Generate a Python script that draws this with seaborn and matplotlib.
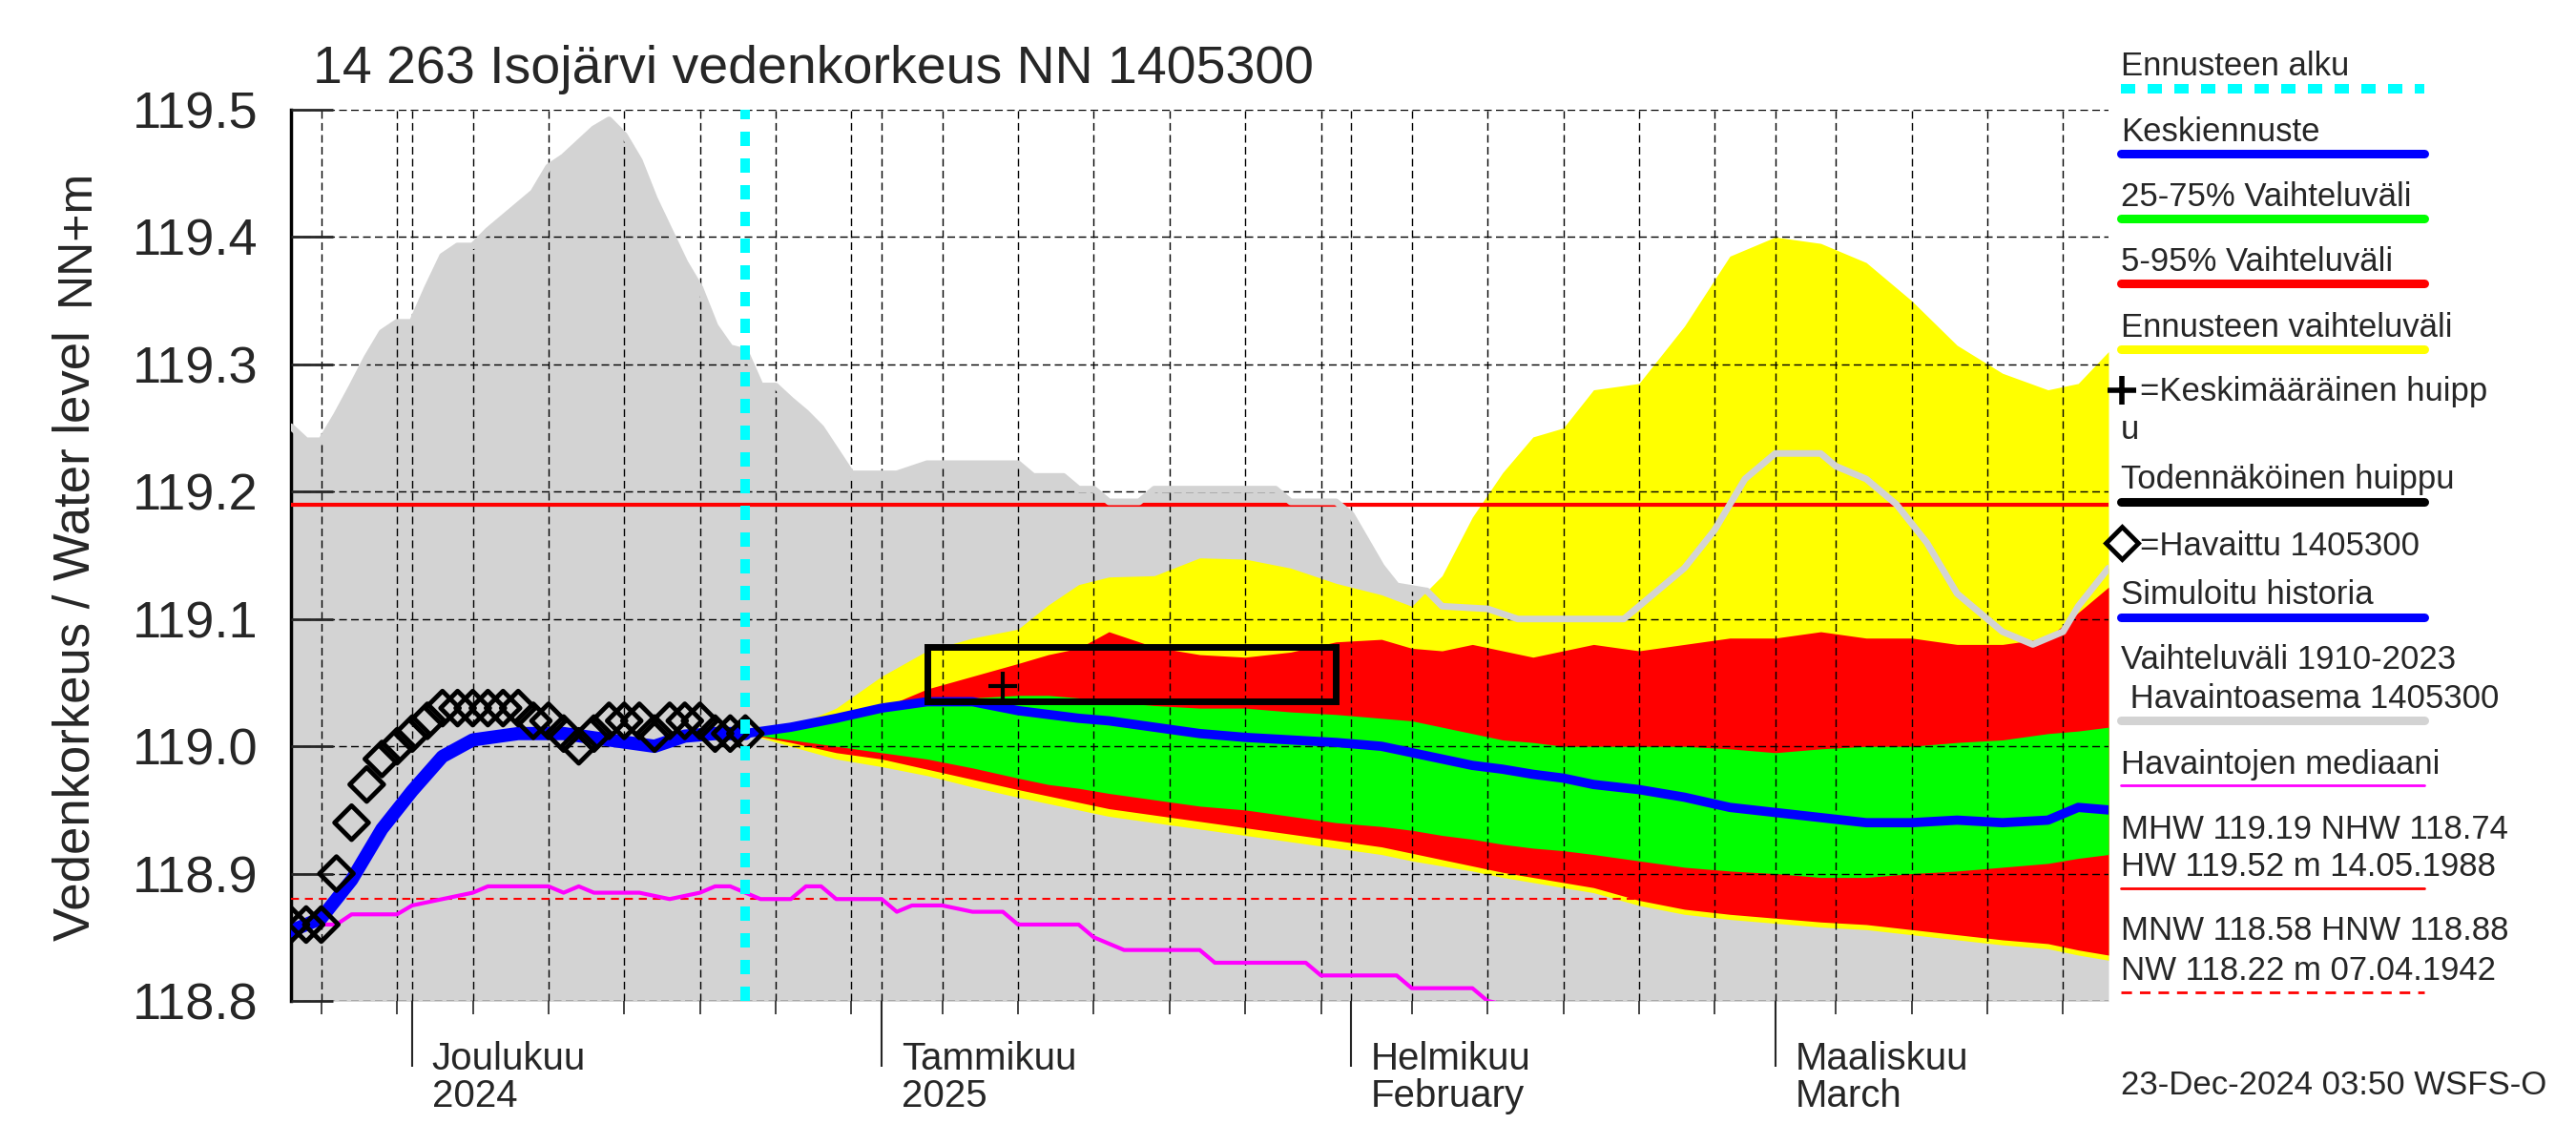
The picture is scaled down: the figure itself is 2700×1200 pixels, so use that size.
import matplotlib
matplotlib.use("Agg")
import numpy as np
import pandas as pd
import matplotlib.pyplot as plt
import matplotlib.dates as mdates
import matplotlib.ticker as mticker
from matplotlib.lines import Line2D
from matplotlib.patches import Rectangle
import seaborn as sns

# --- data --------------------------------------------------------------
x_start, x_end = "2024-11-23", "2025-03-23"
forecast_start = "2024-12-23"
mhw_level = 119.19
hnw_level = 118.88

# historical range 1910-2023 (upper edge, lower edge is below the axis)
hist_dates = ["2024-11-23", "2024-11-24", "2024-11-25", "2024-11-26", "2024-11-27", "2024-11-28",
              "2024-11-29", "2024-11-30", "2024-12-01", "2024-12-02", "2024-12-03", "2024-12-04",
              "2024-12-05", "2024-12-06", "2024-12-07", "2024-12-08", "2024-12-09", "2024-12-10",
              "2024-12-11", "2024-12-12", "2024-12-13", "2024-12-14", "2024-12-15", "2024-12-16",
              "2024-12-17", "2024-12-18", "2024-12-19", "2024-12-20", "2024-12-21", "2024-12-22",
              "2024-12-23", "2024-12-24", "2024-12-25", "2024-12-26", "2024-12-27", "2024-12-28",
              "2024-12-29", "2024-12-30", "2025-01-02", "2025-01-04", "2025-01-10", "2025-01-11",
              "2025-01-13", "2025-01-14", "2025-01-15", "2025-01-16", "2025-01-18", "2025-01-19",
              "2025-01-27", "2025-01-28", "2025-01-31", "2025-02-01", "2025-02-03", "2025-02-04",
              "2025-02-06", "2025-02-07", "2025-02-10", "2025-02-12", "2025-02-19", "2025-02-20",
              "2025-02-21", "2025-02-23", "2025-02-25", "2025-02-27", "2025-03-01", "2025-03-04",
              "2025-03-05", "2025-03-07", "2025-03-09", "2025-03-11", "2025-03-13", "2025-03-15",
              "2025-03-16", "2025-03-18", "2025-03-20", "2025-03-21", "2025-03-23"]
hist_max = [119.251, 119.240, 119.240, 119.260, 119.282, 119.305,
            119.325, 119.333, 119.333, 119.360, 119.385, 119.393,
            119.393, 119.405, 119.415, 119.425, 119.435, 119.455,
            119.463, 119.474, 119.485, 119.492, 119.480, 119.460,
            119.430, 119.405, 119.380, 119.360, 119.330, 119.313,
            119.310, 119.283, 119.283, 119.272, 119.262, 119.250,
            119.232, 119.214, 119.214, 119.222, 119.222, 119.212,
            119.212, 119.202, 119.202, 119.192, 119.192, 119.202,
            119.202, 119.192, 119.192, 119.182, 119.141, 119.126,
            119.122, 119.110, 119.108, 119.100, 119.100, 119.110,
            119.120, 119.140, 119.170, 119.210, 119.230, 119.230,
            119.220, 119.210, 119.190, 119.160, 119.120, 119.100,
            119.090, 119.080, 119.090, 119.110, 119.140]
hist_floor = 118.60

# observed levels (daily)
obs_dates = pd.date_range("2024-11-23", "2024-12-23", freq="D")
obs_level = [118.86, 118.86, 118.86, 118.90, 118.94, 118.97, 118.99, 119.00, 119.01, 119.02,
             119.03, 119.03, 119.03, 119.03, 119.03, 119.03, 119.02, 119.02, 119.01, 119.00,
             119.01, 119.02, 119.02, 119.02, 119.01, 119.02, 119.02, 119.02, 119.01, 119.01,
             119.01]

# simulated history
sim_dates = ["2024-11-23", "2024-11-25", "2024-11-27", "2024-11-29", "2024-12-01", "2024-12-03",
             "2024-12-05", "2024-12-08", "2024-12-11", "2024-12-14", "2024-12-17", "2024-12-19",
             "2024-12-21", "2024-12-23"]
sim_level = [118.855, 118.865, 118.895, 118.935, 118.965, 118.992,
             119.005, 119.010, 119.010, 119.005, 119.000, 119.008,
             119.010, 119.010]

# median of observations
med_dates = ["2024-11-23", "2024-11-26", "2024-11-27", "2024-11-30", "2024-12-01", "2024-12-03",
             "2024-12-05", "2024-12-06", "2024-12-10", "2024-12-11", "2024-12-12", "2024-12-13",
             "2024-12-16", "2024-12-18", "2024-12-20", "2024-12-21", "2024-12-22", "2024-12-23",
             "2024-12-24", "2024-12-26", "2024-12-27", "2024-12-28", "2024-12-29", "2025-01-01",
             "2025-01-02", "2025-01-03", "2025-01-05", "2025-01-07", "2025-01-09", "2025-01-10",
             "2025-01-14", "2025-01-15", "2025-01-16", "2025-01-17", "2025-01-22", "2025-01-23",
             "2025-01-29", "2025-01-30", "2025-02-04", "2025-02-05", "2025-02-09", "2025-02-10",
             "2025-02-12"]
med_level = [118.860, 118.860, 118.868, 118.868, 118.875, 118.880,
             118.885, 118.890, 118.890, 118.885, 118.890, 118.885,
             118.885, 118.880, 118.885, 118.890, 118.890, 118.885,
             118.880, 118.880, 118.890, 118.890, 118.880, 118.880,
             118.870, 118.875, 118.875, 118.870, 118.870, 118.860,
             118.860, 118.850, 118.845, 118.840, 118.840, 118.830,
             118.830, 118.820, 118.820, 118.810, 118.810, 118.800,
             118.795]

# forecast bands
fc_dates = ["2024-12-23", "2024-12-26", "2024-12-29", "2025-01-01", "2025-01-04", "2025-01-07",
            "2025-01-10", "2025-01-12", "2025-01-14", "2025-01-16", "2025-01-19", "2025-01-22",
            "2025-01-25", "2025-01-28", "2025-01-31", "2025-02-03", "2025-02-05", "2025-02-07",
            "2025-02-09", "2025-02-11", "2025-02-13", "2025-02-15", "2025-02-17", "2025-02-20",
            "2025-02-23", "2025-02-26", "2025-03-01", "2025-03-04", "2025-03-07", "2025-03-10",
            "2025-03-13", "2025-03-16", "2025-03-19", "2025-03-21", "2025-03-23"]
fc_max = [119.010, 119.015, 119.030, 119.055, 119.075, 119.085,
          119.092, 119.111, 119.127, 119.133, 119.134, 119.148,
          119.147, 119.140, 119.128, 119.119, 119.110, 119.134,
          119.180, 119.215, 119.243, 119.250, 119.280, 119.285,
          119.330, 119.385, 119.400, 119.395, 119.380, 119.350,
          119.315, 119.293, 119.280, 119.285, 119.310]
fc_min = [119.010, 119.000, 118.990, 118.984, 118.977, 118.968,
          118.960, 118.955, 118.950, 118.945, 118.940, 118.935,
          118.930, 118.925, 118.920, 118.915, 118.910, 118.906,
          118.902, 118.897, 118.893, 118.889, 118.885, 118.875,
          118.868, 118.864, 118.861, 118.858, 118.856, 118.852,
          118.848, 118.844, 118.841, 118.836, 118.832]
p95 = [119.010, 119.012, 119.020, 119.030, 119.045, 119.055,
       119.065, 119.072, 119.077, 119.090, 119.078, 119.072,
       119.070, 119.074, 119.082, 119.084, 119.077, 119.075,
       119.080, 119.075, 119.070, 119.075, 119.080, 119.075,
       119.080, 119.085, 119.085, 119.090, 119.085, 119.085,
       119.080, 119.080, 119.085, 119.105, 119.125]
p05 = [119.010, 119.003, 118.995, 118.990, 118.982, 118.974,
       118.966, 118.961, 118.956, 118.951, 118.946, 118.941,
       118.936, 118.931, 118.926, 118.921, 118.916, 118.911,
       118.906, 118.901, 118.897, 118.893, 118.889, 118.879,
       118.872, 118.868, 118.865, 118.862, 118.860, 118.856,
       118.852, 118.848, 118.845, 118.840, 118.836]
p75 = [119.010, 119.015, 119.022, 119.030, 119.035, 119.038,
       119.040, 119.040, 119.038, 119.035, 119.032, 119.030,
       119.030, 119.027, 119.025, 119.022, 119.020, 119.015,
       119.010, 119.005, 119.003, 119.000, 119.000, 119.000,
       119.000, 118.998, 118.995, 118.998, 119.000, 119.000,
       119.003, 119.005, 119.010, 119.012, 119.015]
p25 = [119.010, 119.005, 119.000, 118.995, 118.990, 118.983,
       118.975, 118.970, 118.967, 118.963, 118.958, 118.953,
       118.950, 118.945, 118.940, 118.937, 118.934, 118.930,
       118.927, 118.923, 118.920, 118.918, 118.915, 118.910,
       118.905, 118.902, 118.900, 118.897, 118.897, 118.900,
       118.902, 118.905, 118.908, 118.912, 118.915]
fc_median = [119.010, 119.015, 119.022, 119.030, 119.035, 119.035,
             119.028, 119.025, 119.022, 119.020, 119.015, 119.010,
             119.007, 119.005, 119.003, 119.000, 118.995, 118.990,
             118.985, 118.982, 118.978, 118.975, 118.970, 118.966,
             118.960, 118.952, 118.948, 118.944, 118.940, 118.940,
             118.942, 118.940, 118.942, 118.952, 118.950]

# probable peak box and mean peak
box_start, box_end = "2025-01-04", "2025-01-31"
box_lo, box_hi = 119.035, 119.078
mean_peak_date, mean_peak_level = "2025-01-09", 119.047

month_starts = ["2024-12-01", "2025-01-01", "2025-02-01", "2025-03-01"]
month_labels = ["Joulukuu\n2024", "Tammikuu\n2025", "Helmikuu\nFebruary", "Maaliskuu\nMarch"]
y_ticks = [118.8, 118.9, 119.0, 119.1, 119.2, 119.3, 119.4, 119.5]

title = "14 263 Isojärvi vedenkorkeus NN 1405300"

# --- styling ---------------------------------------------------------
sns.set_style("white")
plt.rcParams['font.family'] = ['Liberation Sans', 'DejaVu Sans']

W, H = 2700, 1200
GRAY = "#d3d3d3"
YELLOW = "#ffff00"
RED = "#ff0000"
GREEN = "#00ff00"
BLUE = "#0000ff"
CYAN = "#00ffff"
MAGENTA = "#ff00ff"
GRID_LS = (0, (5.8, 3.2))

fig = plt.figure(figsize=(W / 100, H / 100), dpi=100)
ax = fig.add_axes([305 / W, 1 - 1049 / H, (2210 - 305) / W, (1049 - 115) / H])

hist = pd.DataFrame({"date": pd.to_datetime(hist_dates), "max": hist_max})
obs = pd.DataFrame({"date": obs_dates, "level": obs_level})
sim = pd.DataFrame({"date": pd.to_datetime(sim_dates), "level": sim_level})
med = pd.DataFrame({"date": pd.to_datetime(med_dates), "level": med_level})
fc = pd.DataFrame({"date": pd.to_datetime(fc_dates), "max": fc_max, "min": fc_min,
                   "p95": p95, "p05": p05, "p75": p75, "p25": p25, "median": fc_median})

ax.fill_between(hist["date"], hist_floor, hist["max"], color=GRAY, lw=0, zorder=1)
ax.fill_between(fc["date"], fc["min"], fc["max"], color=YELLOW, lw=0, zorder=1.2)
ax.fill_between(fc["date"], fc["p05"], fc["p95"], color=RED, lw=0, zorder=1.4)
ax.fill_between(fc["date"], fc["p25"], fc["p75"], color=GREEN, lw=0, zorder=1.6)

ax.axhline(mhw_level, color=RED, lw=3, zorder=3)
sns.lineplot(data=hist, x="date", y="max", color=GRAY, lw=5, ax=ax, zorder=3.2)
ax.axhline(hnw_level, color=RED, lw=1.5, ls=(0, (4, 3)), zorder=3.3)
sns.lineplot(data=med, x="date", y="level", color=MAGENTA, lw=3, ax=ax, zorder=3.5)
sns.lineplot(data=sim, x="date", y="level", color=BLUE, lw=10, ax=ax, zorder=4)
sns.lineplot(data=fc, x="date", y="median", color=BLUE, lw=7, ax=ax, zorder=4)
sns.scatterplot(data=obs, x="date", y="level", marker="D", s=330, facecolor="none",
                edgecolor="black", linewidth=3.5, ax=ax, zorder=5)

b0 = mdates.date2num(pd.Timestamp(box_start))
b1 = mdates.date2num(pd.Timestamp(box_end))
ax.add_patch(Rectangle((b0, box_lo), b1 - b0, box_hi - box_lo, fill=False,
                       edgecolor="black", lw=5, zorder=5))
ax.plot(pd.Timestamp(mean_peak_date), mean_peak_level, marker="+", ms=22, mew=3,
        color="black", zorder=6)
ax.axvline(pd.Timestamp(forecast_start), color=CYAN, lw=7.2, ls=(0, (1.5, 1.3)), zorder=6)

ax.set_xlim(pd.Timestamp(x_start), pd.Timestamp(x_end))
ax.set_ylim(y_ticks[0], y_ticks[-1])
ax.set_xlabel("")
ax.set_ylabel("")

ax.xaxis.set_major_locator(mdates.MonthLocator(bymonthday=1))
ax.xaxis.set_minor_locator(mdates.DayLocator(bymonthday=[5, 10, 15, 20, 25, 30]))
ax.xaxis.set_major_formatter(mticker.NullFormatter())
ax.set_yticks(y_ticks)
ax.yaxis.set_major_formatter(mticker.FormatStrFormatter("%.1f"))
ax.tick_params(axis="y", left=True, direction="in", length=32, width=2, labelsize=39, pad=25)
ax.tick_params(axis="x", which="major", bottom=True, direction="out", length=50, width=1.5,
               labelbottom=False)
ax.tick_params(axis="x", which="minor", bottom=True, direction="out", length=10, width=1.2)

ax.set_axisbelow(False)
ax.grid(True, axis="y", color="black", lw=1.0, ls=GRID_LS)
ax.grid(True, axis="x", which="both", color="black", lw=1.0, ls=GRID_LS)
for s in ["top", "right", "bottom"]:
    ax.spines[s].set_visible(False)
ax.spines["left"].set_linewidth(2.5)
ax.spines["left"].set_color("black")

for d, lab in zip(month_starts, month_labels):
    ax.annotate(lab, xy=(pd.Timestamp(d), 0), xycoords=("data", "axes fraction"),
                xytext=(15, -30), textcoords="offset points", ha="left", va="top",
                fontsize=29, linespacing=1.05)

fig.text(328 / W, 1 - 87 / H, title, fontsize=40, ha="left", va="baseline")
fig.text(80 / W, 1 - 248 / H, "NN+m", fontsize=36, rotation=90, ha="center", va="center")
fig.text(80 / W, 1 - 666 / H, "Vedenkorkeus / Water level", fontsize=38, rotation=90,
         ha="center", va="center")

# --- legend at the right side ------------------------------------------
LX0, LX1 = 2223, 2541
LFS = 25


def leg_text(x, y, s):
    fig.text(x / W, 1 - y / H, s, fontsize=LFS, ha="left", va="baseline")


def leg_line(y, color, lw, ls="-"):
    fig.add_artist(Line2D([LX0 / W, LX1 / W], [1 - y / H, 1 - y / H], color=color,
                          lw=lw, ls=ls, transform=fig.transFigure))


leg_text(LX0, 79, "Ennusteen alku")
leg_line(93, CYAN, 7.2, (0, (1.5, 1.3)))
leg_text(LX0, 148, "Keskiennuste")
leg_line(161, BLUE, 6.5)
leg_text(LX0, 216, "25-75% Vaihteluväli")
leg_line(229, GREEN, 6.5)
leg_text(LX0, 284, "5-95% Vaihteluväli")
leg_line(297, RED, 6.5)
leg_text(LX0, 353, "Ennusteen vaihteluväli")
leg_line(366, YELLOW, 6.5)
fig.add_artist(Line2D([2224 / W], [1 - 409 / H], marker="+", ms=22, mew=4, color="black",
                      transform=fig.transFigure))
leg_text(2243, 420, "=Keskimääräinen huipp")
leg_text(LX0, 460, "u")
leg_text(LX0, 512, "Todennäköinen huippu")
leg_line(526, "black", 6.5)
fig.add_artist(Line2D([2224 / W], [1 - 569 / H], marker="D", ms=17, mew=3.5, color="black",
                      markerfacecolor="none", transform=fig.transFigure))
leg_text(2243, 582, "=Havaittu 1405300")
leg_text(LX0, 633, "Simuloitu historia")
leg_line(647, BLUE, 6.5)
leg_text(LX0, 701, "Vaihteluväli 1910-2023")
leg_text(LX0, 742, " Havaintoasema 1405300")
leg_line(755, GRAY, 6.5)
leg_text(LX0, 811, "Havaintojen mediaani")
leg_line(823, MAGENTA, 2)
leg_text(LX0, 879, "MHW 119.19 NHW 118.74")
leg_text(LX0, 918, "HW 119.52 m 14.05.1988")
leg_line(931, RED, 2)
leg_text(LX0, 985, "MNW 118.58 HNW 118.88")
leg_text(LX0, 1027, "NW 118.22 m 07.04.1942")
leg_line(1040, RED, 2, (0, (4, 3)))
leg_text(LX0, 1147, "23-Dec-2024 03:50 WSFS-O")

fig.savefig("out.png", dpi=100)
